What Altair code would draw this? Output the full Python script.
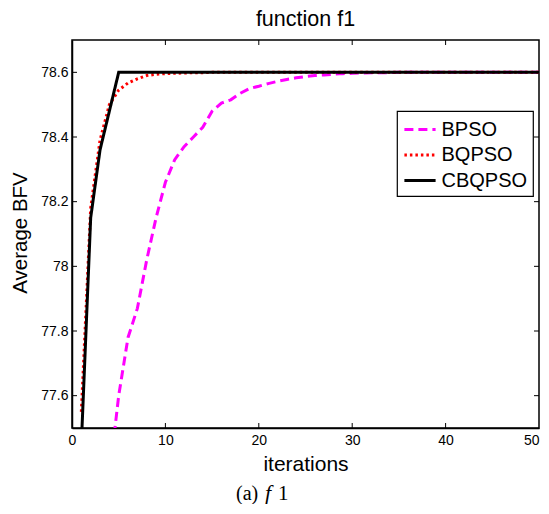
import altair as alt
import pandas as pd

iters_cb = list(range(1, 51))
cbqpso = [77.45, 78.15, 78.36, 78.48] + [78.6] * 46

iters_bq = list(range(1, 51))
bqpso = [77.55, 78.18, 78.39, 78.50, 78.545, 78.567, 78.58, 78.59, 78.594, 78.596,
         78.597, 78.598, 78.599, 78.599] + [78.6] * 36

iters_bp = list(range(4, 51))
bpso = [77.35, 77.60, 77.78, 77.87, 78.02, 78.15, 78.26, 78.33, 78.37, 78.40,
        78.43, 78.48, 78.505, 78.515, 78.535, 78.55, 78.557, 78.565, 78.572, 78.578,
        78.583, 78.587, 78.59, 78.592, 78.594, 78.596, 78.597, 78.598, 78.599, 78.599,
        78.599] + [78.6] * 16

series_names = ["BPSO", "BQPSO", "CBQPSO"]
series_colors = ["#ff00ff", "#ff0000", "#000000"]
series_dashes = [[9, 5], [2.5, 3], [1, 0]]

x_ticks = [0, 10, 20, 30, 40, 50]
y_ticks = [77.6, 77.8, 78.0, 78.2, 78.4, 78.6]

rows = []
for name, xs, ys in [("BPSO", iters_bp, bpso), ("BQPSO", iters_bq, bqpso), ("CBQPSO", iters_cb, cbqpso)]:
    for xv, yv in zip(xs, ys):
        rows.append({"iter": xv, "bfv": yv, "alg": name})
df = pd.DataFrame(rows)

W, H = 467, 388
FONT = "Liberation Sans"

xscale = alt.Scale(domain=[0, 50], nice=False, zero=False)
yscale = alt.Scale(domain=[77.5, 78.7], nice=False, zero=False)

leg = alt.Legend(title=None, orient="none", legendX=325, legendY=71)

lines = alt.Chart(df).mark_line(clip=True, strokeWidth=3).encode(
    x=alt.X("iter:Q", scale=xscale,
            axis=alt.Axis(title="iterations", values=x_ticks, tickSize=0, labelPadding=5,
                          titleFontSize=21, labelFontSize=14, labelFlush=False,
                          labelAlign={"condition": {"test": "datum.value == 50", "value": "right"}, "value": "center"},
                          titleX=W / 2, titleY=42, titleBaseline="alphabetic",
                          titleFontWeight="normal", grid=False, domainColor="black",
                          labelColor="black", titleColor="black")),
    y=alt.Y("bfv:Q", scale=yscale,
            axis=alt.Axis(title="Average BFV", values=y_ticks, tickSize=0, labelPadding=4,
                          labelExpr="datum.value == 78 ? '78' : format(datum.value, '.1f')",
                          titleFontSize=20.5, labelFontSize=14, labelFlush=False,
                          titleX=-45.5, titleY=192.5, titleBaseline="alphabetic",
                          titleFontWeight="normal", grid=False, domainColor="black",
                          labelColor="black", titleColor="black")),
    color=alt.Color("alg:N", scale=alt.Scale(domain=series_names, range=series_colors), legend=leg),
    strokeDash=alt.StrokeDash("alg:N", scale=alt.Scale(domain=series_names, range=series_dashes), legend=leg),
    order=alt.Order("iter:Q"),
)

xt = pd.DataFrame({"v": x_ticks[1:-1]})
yt = pd.DataFrame({"v": y_ticks})

tick_bottom = alt.Chart(xt).mark_rule(color="black", strokeWidth=1).encode(
    x=alt.X("v:Q", scale=xscale), y=alt.value(H), y2=alt.value(H - 5))
tick_top = alt.Chart(xt).mark_rule(color="black", strokeWidth=1).encode(
    x=alt.X("v:Q", scale=xscale), y=alt.value(0), y2=alt.value(5))
tick_left = alt.Chart(yt).mark_rule(color="black", strokeWidth=1).encode(
    y=alt.Y("v:Q", scale=yscale), x=alt.value(0), x2=alt.value(5))
tick_right = alt.Chart(yt).mark_rule(color="black", strokeWidth=1).encode(
    y=alt.Y("v:Q", scale=yscale), x=alt.value(W), x2=alt.value(W - 5))

cap = pd.DataFrame({"t": ["(a)"]})
cap_a = alt.Chart(cap).mark_text(font="Liberation Serif", fontSize=20, align="left", baseline="alphabetic", color="black").encode(
    text=alt.value("(a)"), x=alt.value(164), y=alt.value(H + 72))
cap_f = alt.Chart(cap).mark_text(font="Liberation Serif", fontSize=22, fontStyle="italic", align="left", baseline="alphabetic", color="black").encode(
    text=alt.value("f"), x=alt.value(193), y=alt.value(H + 72))
cap_1 = alt.Chart(cap).mark_text(font="Liberation Serif", fontSize=21, align="left", baseline="alphabetic", color="black").encode(
    text=alt.value("1"), x=alt.value(206), y=alt.value(H + 72))

chart = alt.layer(lines, tick_bottom, tick_top, tick_left, tick_right, cap_a, cap_f, cap_1).properties(
    width=W, height=H,
    autosize=alt.AutoSizeParams(type="none"),
    padding={"left": 64, "top": 32, "right": 2, "bottom": 76},
    title=alt.TitleParams("function f1", fontSize=21.5, fontWeight="normal", font=FONT, color="black", offset=9),
).configure(font=FONT).configure_view(stroke="black", strokeWidth=1.5).configure_axis(
    labelFont=FONT, titleFont=FONT, domainWidth=1.5
).configure_legend(
    strokeColor="black", fillColor="white", padding=5, labelFontSize=20, labelColor="black",
    symbolType="M-1.3,0H1.3", symbolSize=576, symbolStrokeWidth=3, rowPadding=1.5, labelOffset=8,
    symbolOffset=4.5, cornerRadius=0, labelFont=FONT, strokeWidth=1.2
)

chart.save("out.html", embed_options={"renderer": "svg", "actions": False})
